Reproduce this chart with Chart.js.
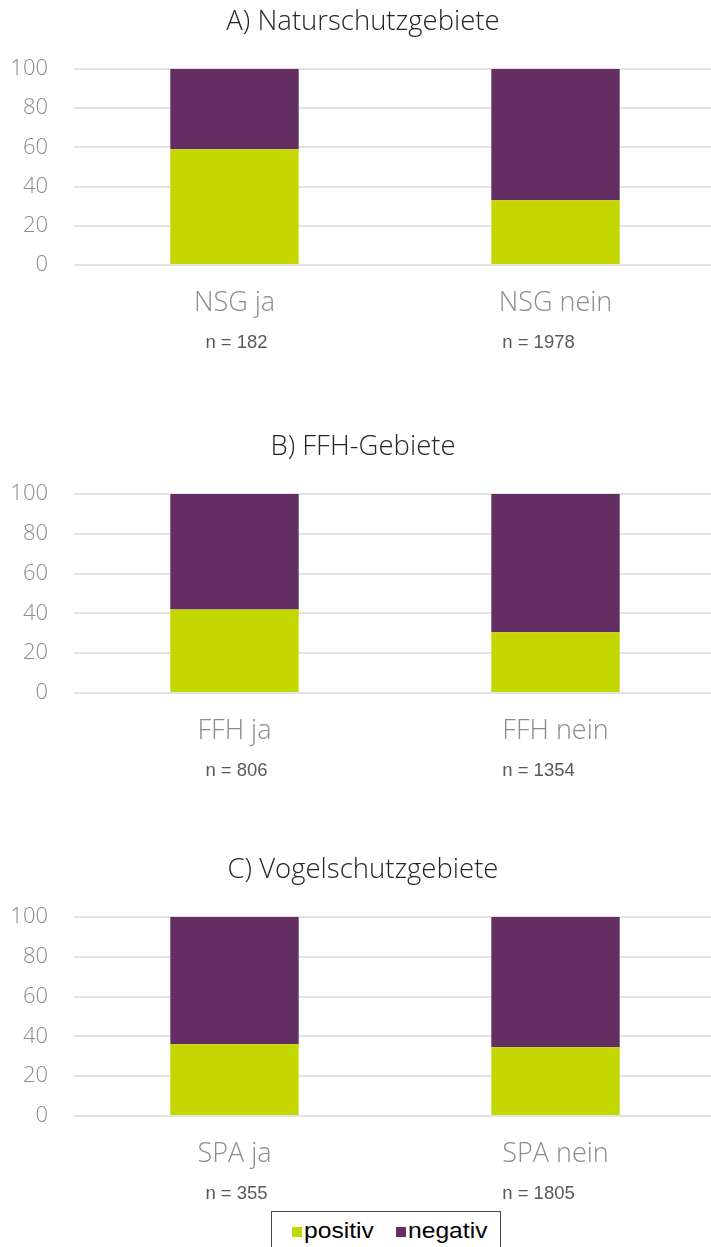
<!DOCTYPE html>
<html>
<head>
<meta charset="utf-8">
<script src="https://cdn.jsdelivr.net/npm/chart.js@4.4.0/dist/chart.umd.min.js"></script>
<style>
  html, body { margin: 0; padding: 0; background: #fff; }
  body { width: 711px; height: 1247px; overflow: hidden; position: relative; }
  .panel { position: absolute; left: 0; }
  #legend {
    position: absolute; left: 271px; top: 1211px; width: 230px; height: 50px;
    box-sizing: border-box; border: 1px solid #4a4a4a; background: #fff;
    font-family: "Liberation Sans", Arial, sans-serif; font-size: 22px; color: #000;
  }
  #legend .item { position: absolute; top: 6px; height: 26px; line-height: 26px; white-space: nowrap; }
  #legend .box { position: absolute; left: 0; top: 9px; width: 10px; height: 10px; }
  #legend .txt { position: absolute; left: 12px; top: 0; display: inline-block; transform: scaleX(1.12); transform-origin: left center; }
</style>
</head>
<body>
<div class="panel" style="top:0px"><canvas id="chartA" width="716" height="367"></canvas></div>
<div class="panel" style="top:425px"><canvas id="chartB" width="716" height="370"></canvas></div>
<div class="panel" style="top:848px"><canvas id="chartC" width="716" height="370"></canvas></div>
<div id="legend"></div>

<script>
// Data
const seriesNames = ['positiv', 'negativ'];
const seriesColors = ['#C5D700', '#632F63'];

const titleA = 'A) Naturschutzgebiete';
const labelsA = ['NSG ja', 'NSG nein'];
const positiveA = [59, 33];
const negativeA = [41, 67];
const sizesA = [182, 1978];

const titleB = 'B) FFH-Gebiete';
const labelsB = ['FFH ja', 'FFH nein'];
const positiveB = [42, 30.5];
const negativeB = [58, 69.5];
const sizesB = [806, 1354];

const titleC = 'C) Vogelschutzgebiete';
const labelsC = ['SPA ja', 'SPA nein'];
const positiveC = [36, 34.5];
const negativeC = [64, 65.5];
const sizesC = [355, 1805];

const yTicks = [0, 20, 40, 60, 80, 100];

// draws the "n = ..." line under each category
const sampleSizePlugin = {
    id: 'sampleSize',
    afterDraw(chart, args, opts) {
        const ctx = chart.ctx;
        const xScale = chart.scales.x;
        ctx.save();
        ctx.font = '18.5px "Liberation Sans", Arial, sans-serif';
        ctx.fillStyle = '#595959';
        ctx.textAlign = 'center';
        ctx.textBaseline = 'middle';
        opts.values.forEach((n, i) => {
            const x = xScale.getPixelForValue(i) + (opts.nudge[i] || 0);
            ctx.fillText('n = ' + n, x, chart.chartArea.bottom + 78);
        });
        ctx.restore();
    }
};

function makeChart(id, title, labels, pos, neg, sizes) {
    const ctx = document.getElementById(id).getContext('2d');
    return new Chart(ctx, {
        type: 'bar',
        data: {
            labels: labels,
            datasets: [
                { label: seriesNames[0], data: pos, backgroundColor: seriesColors[0], borderWidth: 0 },
                { label: seriesNames[1], data: neg, backgroundColor: seriesColors[1], borderWidth: 0 }
            ]
        },
        options: {
            responsive: false,
            animation: false,
            layout: { padding: { left: 10, right: 0, top: 0, bottom: 48 } },
            datasets: { bar: { categoryPercentage: 1, barPercentage: 0.4 } },
            plugins: {
                legend: { display: false },
                tooltip: { enabled: false },
                title: {
                    display: true,
                    text: title,
                    color: '#262626',
                    font: { family: '"Open Sans", sans-serif', size: 27.5, weight: 300 },
                    padding: { top: 6, bottom: 30 }
                },
                sampleSize: { values: sizes, nudge: [2, -17] }
            },
            scales: {
                x: {
                    stacked: true,
                    grid: { display: false, drawTicks: false },
                    border: { display: false },
                    afterFit: axis => { axis.height = 54; },
                    ticks: {
                        color: '#8c8c8c',
                        padding: 22,
                        font: { family: '"Open Sans", sans-serif', size: 27, weight: 300 }
                    }
                },
                y: {
                    stacked: true,
                    min: yTicks[0],
                    max: yTicks[yTicks.length - 1],
                    afterBuildTicks: axis => { axis.ticks = yTicks.map(v => ({ value: v })); },
                    afterFit: axis => { axis.width = 64; },
                    grid: { color: '#e3e3e3', lineWidth: 2, drawTicks: false },
                    border: { display: false },
                    ticks: {
                        color: '#8c8c8c',
                        padding: 26,
                        font: { family: '"Open Sans", sans-serif', size: 22, weight: 300 }
                    }
                }
            }
        },
        plugins: [sampleSizePlugin]
    });
}

makeChart('chartA', titleA, labelsA, positiveA, negativeA, sizesA);
makeChart('chartB', titleB, labelsB, positiveB, negativeB, sizesB);
makeChart('chartC', titleC, labelsC, positiveC, negativeC, sizesC);

// Legend box at the bottom
const legendEl = document.getElementById('legend');
const itemLefts = [20, 124];
seriesNames.forEach((name, i) => {
    const item = document.createElement('div');
    item.className = 'item';
    item.style.left = itemLefts[i] + 'px';
    item.innerHTML = '<span class="box" style="background:' + seriesColors[i] + '"></span>' +
        '<span class="txt">' + name + '</span>';
    legendEl.appendChild(item);
});
</script>
</body>
</html>
